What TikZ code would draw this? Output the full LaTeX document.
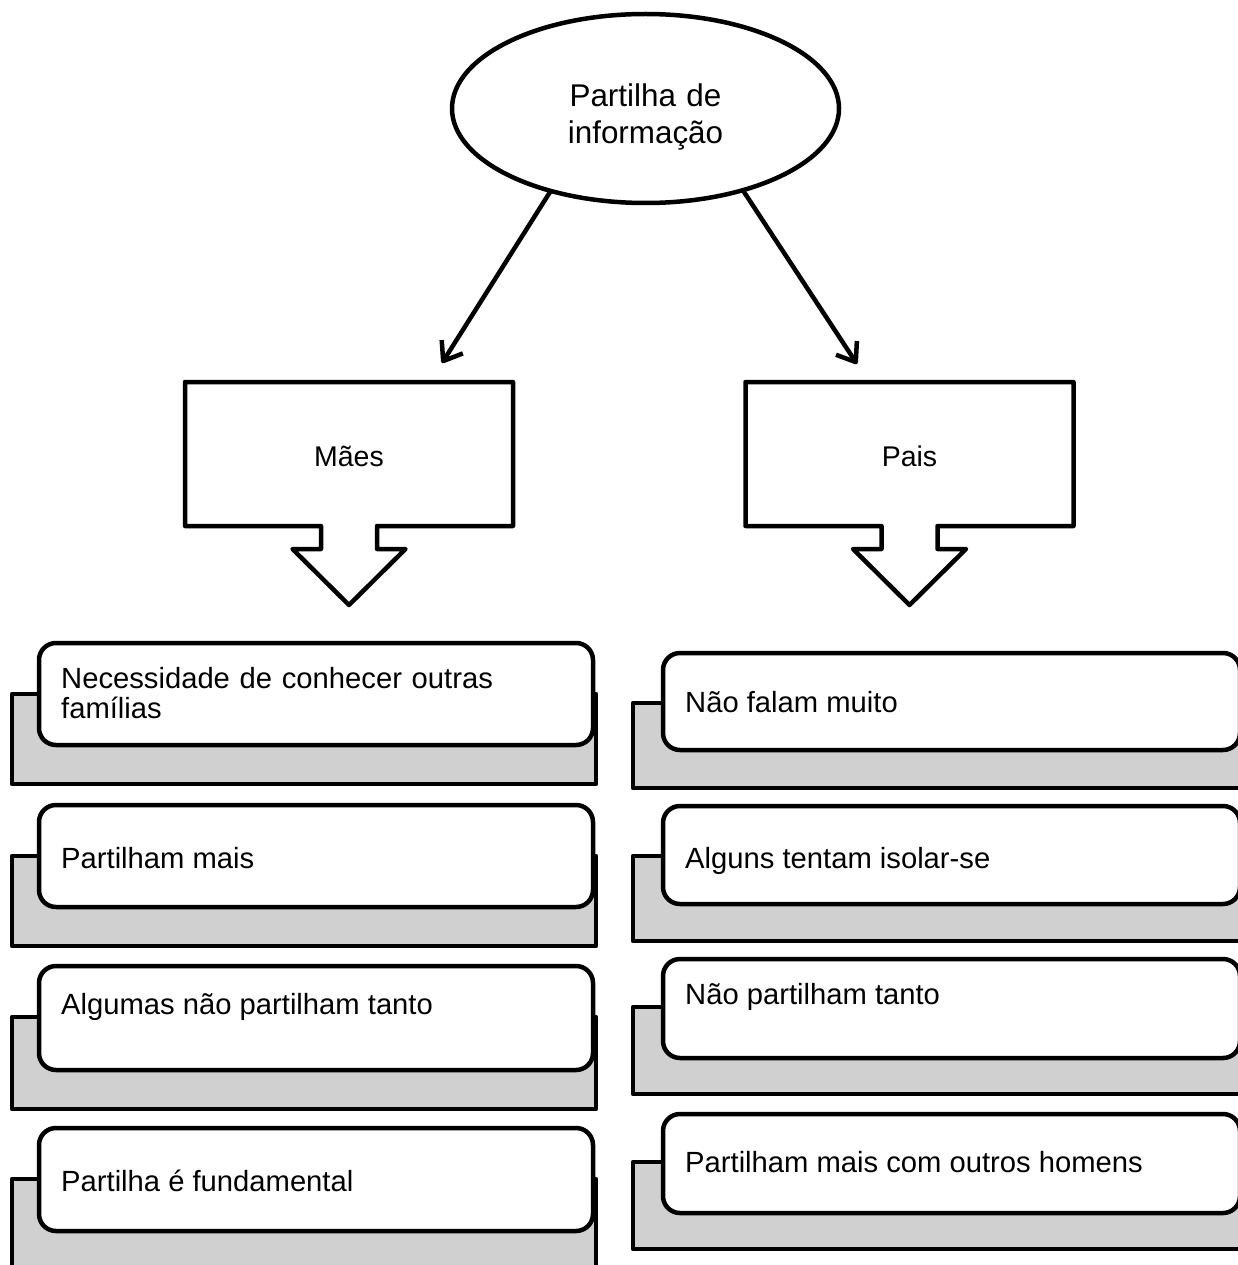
\documentclass[tikz,border=0pt]{standalone}
\usepackage{fontspec}
\setmainfont{Liberation Sans}
\usetikzlibrary{shapes.geometric,arrows.meta}
\definecolor{shadegrey}{RGB}{208,208,208}
\begin{document}
\begin{tikzpicture}[x=1pt,y=-1pt,
  outline/.style={draw=black,line width=4.5pt,line join=round},
  backplate/.style={outline,fill=shadegrey,rectangle,inner sep=0pt,outer sep=0pt,anchor=north west},
  card/.style={outline,fill=white,rectangle,rounded corners=17pt,inner sep=0pt,outer sep=0pt,anchor=north west},
  cardtext/.style={inner sep=0pt,anchor=base west,font=\fontsize{29.2}{30}\selectfont},
  headtext/.style={inner sep=0pt,anchor=base,font=\fontsize{28.5}{30}\selectfont},
  conn/.style={line width=4.5pt,-{Straight Barb[length=17pt,width=25pt,line join=round]}},
  downcallout/.pic={
    \draw[outline,fill=white] (-164,0) -- (164,0) -- (164,144) -- (28,144) -- (28,167)
      -- (56.5,167) -- (0,223) -- (-56.5,167) -- (-28,167) -- (-28,144) -- (-164,144) -- cycle;
  }
]
\useasboundingbox (0,0) rectangle (1238,1265);
\clip (0,0) rectangle (1238,1265);

% top topic
\node[outline,ellipse,fill=white,minimum width=387pt,minimum height=189pt,inner sep=0pt,outer sep=0pt] (info) at (645.5,108.5) {};
\node[inner sep=0pt,anchor=base,text width=220pt,align=center,font=\fontsize{31.4}{37}\selectfont] (infolabel) at (645.5,107) {Partilha de\\informação};

% the two groups
\pic at (349,382) {downcallout};
\node[headtext] (maes) at (349,466) {Mães};
\pic at (909.5,382) {downcallout};
\node[headtext] (pais) at (909.5,466) {Pais};

\coordinate (maesIn) at (442,363);
\coordinate (paisIn) at (857,364);
\draw[conn] (info.221) -- (maesIn);
\draw[conn] (info.320) -- (paisIn);

% left column cards
\node[backplate,minimum width=584pt,minimum height=90pt] (lb1) at (12,694) {};
\node[card,minimum width=554pt,minimum height=102pt] (lc1) at (39,643) {};
\node[cardtext,text width=520pt,align=left] (lt1) at (61,688) {Necessidade de conhecer outras\\famílias};

\node[backplate,minimum width=584pt,minimum height=90pt] (lb2) at (12,856) {};
\node[card,minimum width=554pt,minimum height=102pt] (lc2) at (39,805) {};
\node[cardtext] (lt2) at (61,868) {Partilham mais};

\node[backplate,minimum width=584pt,minimum height=92pt] (lb3) at (12,1017) {};
\node[card,minimum width=554pt,minimum height=104pt] (lc3) at (39,966) {};
\node[cardtext] (lt3) at (61,1014) {Algumas não partilham tanto};

\node[backplate,minimum width=584pt,minimum height=100pt] (lb4) at (12,1179) {};
\node[card,minimum width=554pt,minimum height=103pt] (lc4) at (39,1128) {};
\node[cardtext] (lt4) at (61,1191) {Partilha é fundamental};

% right column cards
\node[backplate,minimum width=620pt,minimum height=85pt] (rb1) at (633,703) {};
\node[card,minimum width=577pt,minimum height=97pt] (rc1) at (663,653) {};
\node[cardtext] (rt1) at (685,712) {Não falam muito};

\node[backplate,minimum width=620pt,minimum height=85pt] (rb2) at (633,856) {};
\node[card,minimum width=577pt,minimum height=98pt] (rc2) at (663,806) {};
\node[cardtext] (rt2) at (685,868) {Alguns tentam isolar-se};

\node[backplate,minimum width=620pt,minimum height=87pt] (rb3) at (633,1007) {};
\node[card,minimum width=577pt,minimum height=99pt] (rc3) at (663,959) {};
\node[cardtext] (rt3) at (685,1004) {Não partilham tanto};

\node[backplate,minimum width=620pt,minimum height=87pt] (rb4) at (633,1162) {};
\node[card,minimum width=577pt,minimum height=99pt] (rc4) at (663,1114) {};
\node[cardtext] (rt4) at (685,1172) {Partilham mais com outros homens};
\end{tikzpicture}
\end{document}
